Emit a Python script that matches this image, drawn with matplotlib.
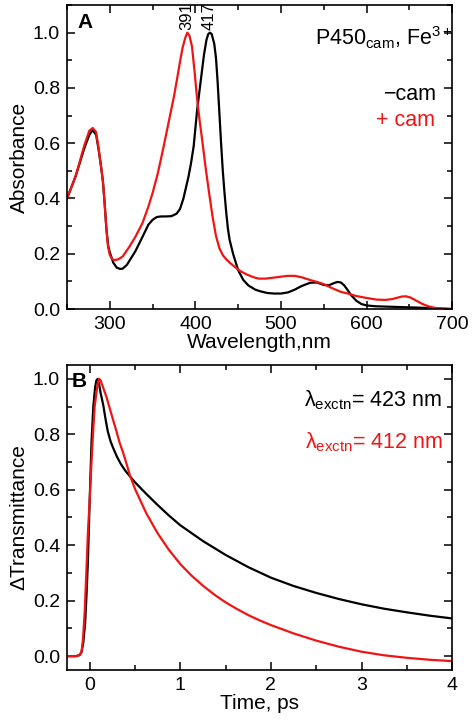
import matplotlib
matplotlib.use("Agg")
import matplotlib.pyplot as plt
from matplotlib.ticker import MultipleLocator

plt.rcParams['font.family'] = ['Liberation Sans', 'DejaVu Sans']
plt.rcParams['mathtext.fontset'] = 'custom'
plt.rcParams['mathtext.rm'] = 'Liberation Sans'
plt.rcParams['mathtext.it'] = 'Liberation Sans'

# ---------------------------------------------------------
# Panel A - absorbance spectra
# ---------------------------------------------------------
wl_minus = [250, 260, 270, 276, 280, 284, 287, 290, 292, 294, 296, 298, 300, 304, 308, 312, 315,
            320, 330, 338, 345, 350, 355, 360, 365, 372, 378, 382, 386, 389, 392, 395, 398, 402,
            406, 410, 413, 415, 417, 419, 422, 424, 426, 428, 430, 432, 434, 436, 438, 440, 444,
            450, 456, 462, 470, 476, 484, 492, 500, 508, 516, 524, 534, 542, 550, 556, 562, 566,
            570, 574, 578, 582, 588, 594, 600, 610, 630, 650, 670, 685, 700]
abs_minus = [0.40, 0.48, 0.58, 0.63, 0.648, 0.63, 0.575, 0.51, 0.46, 0.38, 0.29, 0.23, 0.205,
             0.168, 0.15, 0.145, 0.146, 0.16, 0.21, 0.26, 0.305, 0.323, 0.333, 0.335, 0.335,
             0.336, 0.345, 0.362, 0.40, 0.44, 0.48, 0.53, 0.59, 0.72, 0.82, 0.92, 0.975, 0.995,
             1.0, 0.995, 0.96, 0.91, 0.82, 0.71, 0.60, 0.50, 0.42, 0.35, 0.29, 0.25, 0.20, 0.14,
             0.105, 0.085, 0.07, 0.064, 0.058, 0.056, 0.056, 0.06, 0.07, 0.083, 0.095, 0.096,
             0.087, 0.086, 0.094, 0.098, 0.096, 0.085, 0.068, 0.05, 0.03, 0.018, 0.013, 0.01,
             0.008, 0.006, 0.004, 0.002, 0.0]

wl_plus = [250, 260, 270, 276, 280, 284, 287, 290, 292, 294, 296, 298, 300, 303, 306, 310, 315,
           323, 330, 338, 345, 350, 356, 362, 367, 371, 375, 379, 382, 385, 388, 390.5, 393,
           396, 399, 402, 405, 408, 412, 416, 420, 424, 428, 432, 436, 440, 445, 452, 460, 468,
           474, 482, 490, 500, 508, 516, 524, 534, 542, 550, 560, 570, 578, 588, 600, 612, 622,
           630, 636, 641, 646, 651, 657, 664, 672, 680, 690, 700]
abs_plus = [0.40, 0.48, 0.59, 0.645, 0.655, 0.64, 0.58, 0.51, 0.46, 0.38, 0.29, 0.225, 0.195,
            0.18, 0.177, 0.18, 0.19, 0.226, 0.262, 0.31, 0.37, 0.42, 0.49, 0.575, 0.65, 0.71,
            0.77, 0.84, 0.895, 0.945, 0.98, 1.0, 0.99, 0.95, 0.86, 0.76, 0.68, 0.61, 0.51,
            0.42, 0.335, 0.265, 0.22, 0.195, 0.18, 0.168, 0.155, 0.138, 0.125, 0.115, 0.11,
            0.11, 0.113, 0.117, 0.12, 0.12, 0.115, 0.105, 0.098, 0.09, 0.075, 0.062, 0.056,
            0.047, 0.04, 0.034, 0.033, 0.036, 0.041, 0.045, 0.046, 0.042, 0.032, 0.02, 0.01,
            0.004, 0.001, 0.0]

peak_labels = [(390, '391'), (416, '417')]

# ---------------------------------------------------------
# Panel B - transient transmittance
# ---------------------------------------------------------
t_423 = [-0.25, -0.15, -0.11, -0.09, -0.07, -0.05, -0.035, -0.02, 0.0, 0.02, 0.04, 0.06, 0.075,
         0.09, 0.105, 0.12, 0.15, 0.175, 0.2, 0.23, 0.26, 0.3, 0.34, 0.39, 0.44, 0.5, 0.625,
         0.75, 0.875, 1.0, 1.25, 1.5, 1.75, 2.0, 2.25, 2.5, 2.75, 3.0, 3.25, 3.5, 3.75, 4.0]
dt_423 = [0.0, 0.0, 0.004, 0.015, 0.05, 0.12, 0.22, 0.34, 0.56, 0.77, 0.9, 0.97, 0.995, 1.0,
          0.98, 0.95, 0.905, 0.855, 0.81, 0.775, 0.75, 0.72, 0.695, 0.67, 0.65, 0.627, 0.585,
          0.545, 0.507, 0.472, 0.415, 0.365, 0.321, 0.283, 0.253, 0.228, 0.206, 0.187, 0.171,
          0.158, 0.146, 0.136]

t_412 = [-0.25, -0.15, -0.11, -0.09, -0.074, -0.055, -0.037, -0.02, 0.0, 0.02, 0.037, 0.055,
         0.074, 0.09, 0.103, 0.12, 0.15, 0.185, 0.22, 0.26, 0.296, 0.33, 0.37, 0.41, 0.443,
         0.5, 0.625, 0.75, 0.875, 1.0, 1.125, 1.25, 1.375, 1.5, 1.625, 1.75, 1.875, 2.0, 2.25,
         2.5, 2.75, 3.0, 3.25, 3.5, 3.75, 4.0]
dt_412 = [0.0, 0.0, 0.004, 0.015, 0.06, 0.16, 0.30, 0.44, 0.565, 0.70, 0.805, 0.9, 0.95, 0.985,
          1.0, 0.995, 0.967, 0.935, 0.895, 0.85, 0.81, 0.77, 0.733, 0.69, 0.653, 0.603, 0.515,
          0.443, 0.383, 0.332, 0.29, 0.254, 0.222, 0.194, 0.17, 0.148, 0.129, 0.112, 0.082,
          0.056, 0.034, 0.016, 0.003, -0.006, -0.013, -0.018]

RED = '#f01414'
fig = plt.figure(figsize=(4.72, 7.22), dpi=100)
axA = fig.add_axes([0.142, 0.572, 0.816, 0.421])
axB = fig.add_axes([0.142, 0.072, 0.816, 0.4225])


def style_axis(ax):
    ax.tick_params(which='both', direction='in', top=True, right=True, labelsize=14)
    ax.tick_params(which='major', length=6, width=1.1, pad=5)
    ax.tick_params(which='minor', length=3.5, width=1.1)
    for s in ax.spines.values():
        s.set_linewidth(1.2)


# panel A
axA.plot(wl_minus, abs_minus, color='black', lw=1.6)
axA.plot(wl_plus, abs_plus, color=RED, lw=1.6)
axA.set_xlim(250, 700)
axA.set_ylim(0, 1.1)
axA.set_xticks([300, 400, 500, 600, 700])
axA.xaxis.set_minor_locator(MultipleLocator(50))
axA.set_yticks([0.0, 0.2, 0.4, 0.6, 0.8, 1.0])
axA.yaxis.set_minor_locator(MultipleLocator(0.1))
axA.set_xlabel('Wavelength,nm', fontsize=15, labelpad=0)
axA.set_ylabel('Absorbance', fontsize=15, labelpad=3)
style_axis(axA)
for x, lab in peak_labels:
    axA.text(x, 1.01, lab, rotation=90, ha='center', va='bottom', fontsize=12)
axA.text(0.026, 0.975, 'A', transform=axA.transAxes, fontsize=15, fontweight='bold',
         ha='left', va='top')
axA.text(1.0, 0.868, r'P450$_{\mathregular{cam}}$, Fe$^{\mathregular{3+}}$',
         transform=axA.transAxes, fontsize=15.5, ha='right', va='baseline')
axA.text(0.961, 0.687, '\u2212cam', transform=axA.transAxes, fontsize=15.5, ha='right',
         va='baseline', color='black')
axA.text(0.956, 0.602, '+ cam', transform=axA.transAxes, fontsize=15.5, ha='right',
         va='baseline', color=RED)

# panel B
axB.plot(t_423, dt_423, color='black', lw=1.6)
axB.plot(t_412, dt_412, color=RED, lw=1.6)
axB.set_xlim(-0.25, 4)
axB.set_ylim(-0.05, 1.05)
axB.set_xticks([0, 1, 2, 3, 4])
axB.xaxis.set_minor_locator(MultipleLocator(0.5))
axB.set_yticks([0.0, 0.2, 0.4, 0.6, 0.8, 1.0])
axB.yaxis.set_minor_locator(MultipleLocator(0.1))
axB.set_xlabel('Time, ps', fontsize=15, labelpad=0)
axB.set_ylabel('\u0394Transmittance', fontsize=15, labelpad=3)
style_axis(axB)
axB.text(0.013, 0.977, 'B', transform=axB.transAxes, fontsize=15, fontweight='bold',
         ha='left', va='top')
axB.text(0.974, 0.863, r'$\lambda_{\mathregular{exctn}}$= 423 nm', transform=axB.transAxes,
         fontsize=15.5, ha='right', va='baseline', color='black')
axB.text(0.977, 0.727, r'$\lambda_{\mathregular{exctn}}$= 412 nm', transform=axB.transAxes,
         fontsize=15.5, ha='right', va='baseline', color=RED)

fig.savefig('out.png', dpi=100)
